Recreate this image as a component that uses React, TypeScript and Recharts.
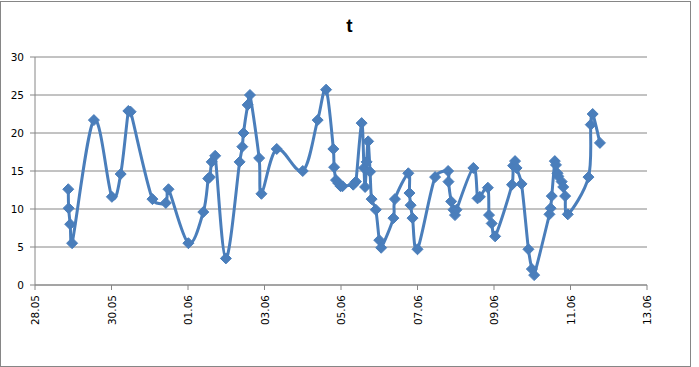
import { LineChart, Line, XAxis, YAxis, CartesianGrid } from "recharts";

// days since 28.05 and the temperature readings
const days = [
  0.87, 0.88, 0.92, 0.97, 1.54, 2.01, 2.24, 2.44, 2.5, 3.07, 3.42, 3.49, 4.01, 4.4, 4.53, 4.57, 4.62, 4.71,
  4.99, 5.35, 5.42, 5.45, 5.56, 5.62, 5.86, 5.92, 6.32, 7.0, 7.39, 7.61, 7.8, 7.82, 7.87, 7.93, 7.99, 8.04,
  8.32, 8.39, 8.54, 8.6, 8.63, 8.67, 8.71, 8.76, 8.8, 8.91, 9.0, 9.05, 9.37, 9.41, 9.76, 9.79, 9.82, 9.87,
  10.0, 10.46, 10.8, 10.81, 10.88, 10.94, 10.98, 11.02, 11.46, 11.57, 11.63, 11.84, 11.87, 11.94, 12.03,
  12.47, 12.5, 12.55, 12.59, 12.72, 12.9, 12.99, 13.05, 13.45, 13.48, 13.51, 13.59, 13.62, 13.66, 13.68,
  13.77, 13.81, 13.86, 13.93, 14.47, 14.53, 14.58, 14.77,
];
const temps = [
  12.6, 10.1, 8.0, 5.5, 21.7, 11.6, 14.6, 22.9, 22.8, 11.3, 10.8, 12.6, 5.5, 9.6, 14.0, 14.2, 16.2, 17.0,
  3.5, 16.2, 18.2, 20.0, 23.7, 25.0, 16.7, 12.0, 17.9, 15.0, 21.7, 25.7, 17.9, 15.5, 13.8, 13.4, 13.0, 13.0,
  13.2, 13.6, 21.3, 15.4, 12.9, 16.2, 18.9, 14.9, 11.3, 9.9, 5.9, 4.9, 8.8, 11.3, 14.7, 12.1, 10.5, 8.8,
  4.7, 14.2, 15.0, 13.6, 11.0, 9.9, 9.2, 9.9, 15.4, 11.4, 11.6, 12.8, 9.2, 8.1, 6.4,
  13.2, 15.7, 16.3, 15.4, 13.3, 4.7, 2.1, 1.3, 9.3, 10.1, 11.7, 16.3, 15.8, 14.7, 14.3,
  13.6, 12.9, 11.7, 9.3, 14.2, 21.1, 22.5, 18.7,
];

const xTicks = [0, 2, 4, 6, 8, 10, 12, 14, 16];
const xLabels = ["28.05", "30.05", "01.06", "03.06", "05.06", "07.06", "09.06", "11.06", "13.06"];
const yTicks = [0, 5, 10, 15, 20, 25, 30];

const data = days.map((d, i) => ({ day: d, t: temps[i] }));

const BLUE = "#4a7ebb";
const GREY = "#868686";

// excel-style smoothing: catmull-rom beziers, tangents capped on short segments
function excelCurve(context: any) {
  let pts: number[][] = [];
  const ctrl = (a: number[], b: number[], from: number[], to: number[], sign: number) => {
    let tx = (b[0] - a[0]) / 6;
    let ty = (b[1] - a[1]) / 6;
    const len = Math.hypot(tx, ty);
    const seg = Math.hypot(to[0] - from[0], to[1] - from[1]);
    const max = seg * 0.4;
    if (len > max && len > 0) {
      tx *= max / len;
      ty *= max / len;
    }
    return [from[0] + sign * tx, from[1] + sign * ty];
  };
  return {
    areaStart() {},
    areaEnd() {},
    lineStart() {
      pts = [];
    },
    point(x: number, y: number) {
      pts.push([+x, +y]);
    },
    lineEnd() {
      const n = pts.length;
      if (!n) return;
      context.moveTo(pts[0][0], pts[0][1]);
      for (let i = 0; i < n - 1; i++) {
        const p0 = pts[Math.max(0, i - 1)];
        const p1 = pts[i];
        const p2 = pts[i + 1];
        const p3 = pts[Math.min(n - 1, i + 2)];
        const c1 = ctrl(p0, p2, p1, p2, 1);
        const c2 = ctrl(p1, p3, p2, p1, -1);
        context.bezierCurveTo(c1[0], c1[1], c2[0], c2[1], p2[0], p2[1]);
      }
    },
  };
}

function Diamond(props: any) {
  const { cx, cy, index } = props;
  if (cx == null || cy == null) return <g key={index} />;
  const r = 5.5;
  return (
    <polygon
      key={index}
      points={`${cx},${cy - r} ${cx + r},${cy} ${cx},${cy + r} ${cx - r},${cy}`}
      fill={BLUE}
      stroke={BLUE}
      strokeWidth={1}
    />
  );
}

function DateTick({ x, y, payload }: any) {
  const label = xLabels[xTicks.indexOf(payload.value)] ?? "";
  const ty = y + 3;
  return (
    <text
      x={x}
      y={ty}
      dy={4}
      transform={`rotate(-90 ${x} ${ty})`}
      textAnchor="end"
      fontSize={10.5}
      fontFamily="DejaVu Sans"
      fill="#000"
    >
      {label}
    </text>
  );
}

export default function App() {
  return (
    <div style={{ position: "absolute", left: 0, top: 0, width: 699, height: 367, background: "#fff" }}>
      <div
        style={{
          position: "absolute",
          left: 0,
          top: 1,
          width: 691,
          height: 366,
          boxSizing: "border-box",
          border: `1px solid ${GREY}`,
        }}
      />
      <div
        style={{
          position: "absolute",
          left: 0,
          top: 16,
          width: 699,
          textAlign: "center",
          fontFamily: "Liberation Sans",
          fontWeight: "bold",
          fontSize: 19,
          lineHeight: "20px",
        }}
      >
        t
      </div>
      <LineChart
        width={699}
        height={367}
        data={data}
        margin={{ top: 57, right: 52, bottom: 22, left: 0 }}
        style={{ position: "absolute", left: 0, top: 0 }}
      >
        <CartesianGrid horizontal vertical={false} stroke={GREY} strokeWidth={1} />
        <XAxis
          type="number"
          dataKey="day"
          domain={[0, 16]}
          ticks={xTicks}
          interval={0}
          height={60}
          stroke={GREY}
          tickSize={5}
          tick={<DateTick />}
        />
        <YAxis
          type="number"
          domain={[0, 30]}
          ticks={yTicks}
          interval={0}
          width={35}
          stroke={GREY}
          tickSize={5}
          tickMargin={6}
          tick={{ fontSize: 10.5, fontFamily: "DejaVu Sans", fill: "#000" }}
        />
        <Line
          type={excelCurve as any}
          dataKey="t"
          stroke={BLUE}
          strokeWidth={3}
          dot={<Diamond />}
          activeDot={false}
          isAnimationActive={false}
        />
      </LineChart>
    </div>
  );
}
